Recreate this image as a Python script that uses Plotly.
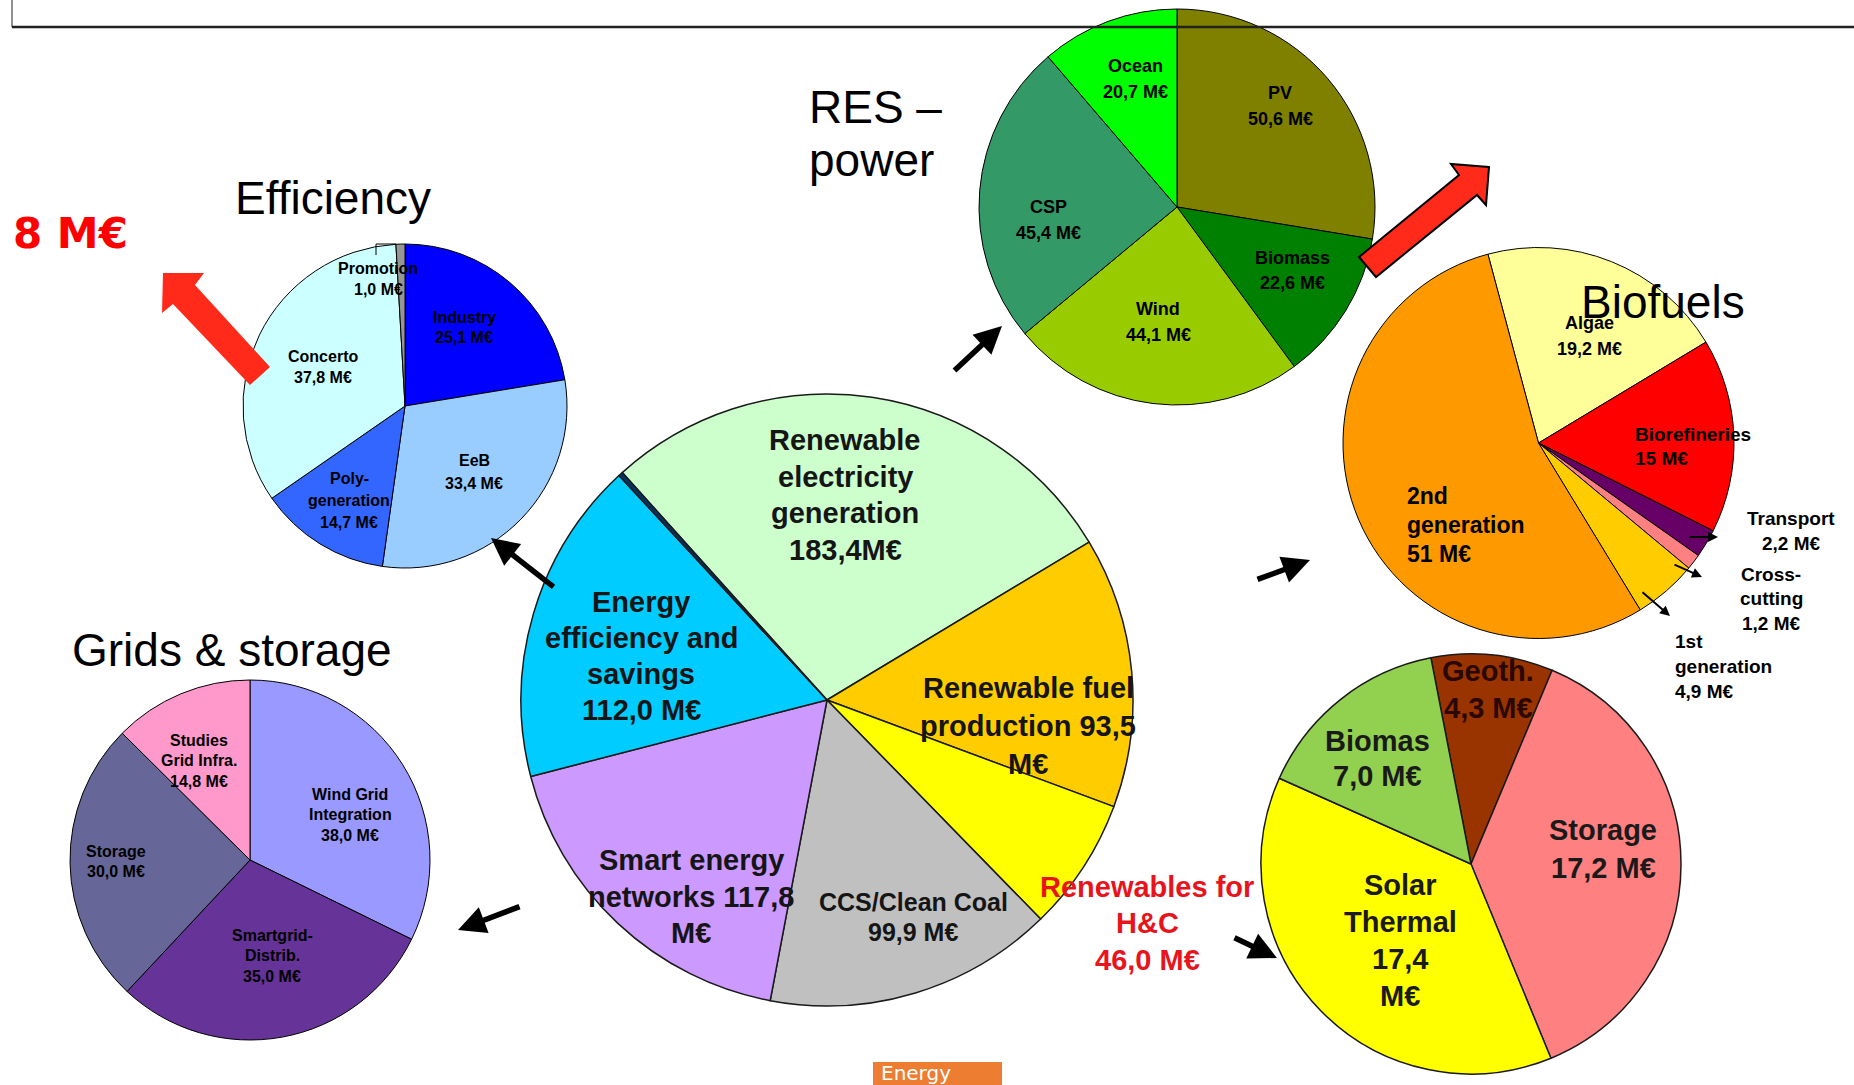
import plotly.graph_objects as go

W, H = 1854, 1085
FONT = "Liberation Sans, Arial, sans-serif"

# ------------------------------------------------------------------ data
central_labels = ["Renewable electricity generation", "Renewable fuel production",
                  "Renewables for H&C", "CCS/Clean Coal", "Smart energy networks",
                  "Energy efficiency and savings", "Other (unlabelled)"]
central_values = [183.4, 93.5, 46.0, 99.9, 117.8, 112.0, 1.5]
central_colors = ["#CCFFCC", "#FFCC00", "#FFFF00", "#C0C0C0", "#CC99FF", "#00CCFF", "#003366"]
central_text = [
    ["Renewable", "electricity", "generation", "183,4M€"],
    ["Renewable fuel", "production 93,5", "M€"],
    ["Renewables for", "H&C", "46,0 M€"],
    ["CCS/Clean Coal", "99,9 M€"],
    ["Smart energy", "networks 117,8", "M€"],
    ["Energy", "efficiency and", "savings", "112,0 M€"],
]

effic_names = ["Industry", "EeB", "Poly-\ngeneration", "Concerto", "Promotion"]
effic_values = [25.1, 33.4, 14.7, 37.8, 1.0]
effic_colors = ["#0000FF", "#99CCFF", "#3366FF", "#CCFFFF", "#969696"]

res_names = ["PV", "Biomass", "Wind", "CSP", "Ocean"]
res_values = [50.6, 22.6, 44.1, 45.4, 20.7]
res_colors = ["#808000", "#008000", "#99CC00", "#339966", "#00FF00"]

bio_names = ["Algae", "Biorefineries", "Transport", "Cross-\ncutting", "1st\ngeneration", "2nd\ngeneration"]
bio_values = [19.2, 15, 2.2, 1.2, 4.9, 51]
bio_colors = ["#FFFF99", "#FF0000", "#660066", "#FF8080", "#FFCC00", "#FF9900"]

hc_names = ["Geoth.", "Storage", "Solar\nThermal", "Biomas"]
hc_values = [4.3, 17.2, 17.4, 7.0]
hc_colors = ["#993300", "#FF8080", "#FFFF00", "#92D050"]

grid_names = ["Wind Grid\nIntegration", "Smartgrid-\nDistrib.", "Storage", "Studies\nGrid Infra."]
grid_values = [38.0, 35.0, 30.0, 14.8]
grid_colors = ["#9999FF", "#663399", "#666699", "#FF99CC"]

titles = ["Efficiency", "RES –\npower", "Biofuels", "Grids & storage"]
promo_total = "8 M€"
banner_text = "Energy"


# ------------------------------------------------------------------ helpers
def fmt(v, style="1dp", sep=" "):
    s = f"{v:.1f}" if style == "1dp" else f"{v:g}"
    return s.replace(".", ",") + sep + "M€"


def px(x, y):
    return x / W, 1 - y / H


def dom(cx, cy, r):
    return dict(x=[(cx - r) / W, (cx + r) / W], y=[1 - (cy + r) / H, 1 - (cy - r) / H])


annotations = []
shapes = []


def block(lines, x, y0, dy, size, color="#000000", bold=True, align="center", family=FONT):
    for i, line in enumerate(lines):
        xx, yy = px(x, y0 + i * dy)
        annotations.append(dict(
            x=xx, y=yy, xref="paper", yref="paper", showarrow=False,
            text=f"<b>{line}</b>" if bold else line,
            xanchor=align, yanchor="middle",
            font=dict(size=size, color=color, family=family)))


def arrow(tail, head, width, size=1.0, color="black"):
    xx, yy = px(*head)
    annotations.append(dict(
        x=xx, y=yy, xref="paper", yref="paper", text="", showarrow=True,
        ax=tail[0] - head[0], ay=tail[1] - head[1], axref="pixel", ayref="pixel",
        arrowhead=2, arrowsize=size, arrowwidth=width, arrowcolor=color))


def poly(points, fill, line_color=None, line_width=0):
    d = "M " + " L ".join(f"{x / W:.5f},{1 - y / H:.5f}" for x, y in points) + " Z"
    shapes.append(dict(type="path", xref="paper", yref="paper", path=d,
                       fillcolor=fill, layer="above",
                       line=dict(color=line_color or fill, width=line_width)))


def pie(labels, values, colors, cx, cy, r, rotation, lw=1, lc="black"):
    return go.Pie(labels=labels, values=values, sort=False, direction="clockwise",
                  rotation=rotation, domain=dom(cx, cy, r), textinfo="none",
                  marker=dict(colors=colors, line=dict(color=lc, width=lw)),
                  showlegend=False, hoverinfo="label+value")


fig = go.Figure()

# ------------------------------------------------------------------ pies
fig.add_trace(pie([n.replace("\n", " ") for n in effic_names], effic_values, effic_colors, 405, 406, 162, 0))
fig.add_trace(pie(res_names, res_values, res_colors, 1177, 207, 198, 0))
fig.add_trace(pie([n.replace("\n", " ") for n in bio_names], bio_values, bio_colors, 1538.5, 443, 195.5, -15))
fig.add_trace(pie([n.replace("\n", " ") for n in hc_names], hc_values, hc_colors, 1471, 864, 210, -11, lw=1.5, lc="#1a1a1a"))
fig.add_trace(pie([n.replace("\n", " ") for n in grid_names], grid_values, grid_colors, 250, 860, 180, 0))
fig.add_trace(pie(central_labels, central_values, central_colors, 827, 700, 306, -42, lw=1.5, lc="#1a1a1a"))

# ------------------------------------------------------------------ titles
block([titles[0]], 333, 198, 0, 46, bold=False)
block(titles[1].split("\n"), 807, 107, 53, 46, bold=False, align="left")
block([titles[2]], 1663, 302, 0, 46, bold=False)
block([titles[3]], 232, 650, 0, 46, bold=False)
block([promo_total], 70, 233, 0, 42, color="#FF0000", family="DejaVu Sans, Verdana, sans-serif")

# ------------------------------------------------------------------ efficiency labels
eff_pos = [(464, 317, 21), (474, 461, 22), (349, 478, 22), (323, 356, 21), (378, 268, 22)]
for name, v, (x, y, dy) in zip(effic_names, effic_values, eff_pos):
    block(name.split("\n") + [fmt(v)], x, y, dy, 16)

# ------------------------------------------------------------------ RES labels
res_pos = [(1280, 93), (1292, 258), (1158, 309), (1048, 207), (1135, 66)]
for name, v, (x, y) in zip(res_names, res_values, res_pos):
    block([name, fmt(v)], x, y, 25.5, 18)

# ------------------------------------------------------------------ Biofuels labels
bio_pos = [(1589, 323, 26, "center", 18), (1633, 434, 24, "left", 19),
           (1791, 518, 25, "center", 19), (1771, 574, 24.5, "center", 19),
           (1673, 641, 25, "left", 19), (1405, 496, 29, "left", 23)]
for name, v, (x, y, dy, al, fs) in zip(bio_names, bio_values, bio_pos):
    block(name.split("\n") + [fmt(v, "g")], x, y, dy, fs, align=al)

arrow((1688, 537), (1718, 537), 2)
arrow((1673, 564), (1702, 577), 2)
arrow((1641, 591), (1670, 616), 2)

# ------------------------------------------------------------------ H&C labels
hc_pos = [(1488, 671, 37, "#2a0800"), (1603, 830, 38, "#1a1a1a"),
          (1400, 885, 37, "#1a1a1a"), (1377, 741, 35, "#1a1a1a")]
for name, v, (x, y, dy, col) in zip(hc_names, hc_values, hc_pos):
    val = fmt(v)
    lines = name.split("\n")
    lines += val.split(" ") if len(lines) > 1 else [val]
    block(lines, x, y, dy, 29, color=col)

# ------------------------------------------------------------------ grids labels
grid_pos = [(350, 794), (272, 935), (116, 851), (199, 740)]
for name, v, (x, y) in zip(grid_names, grid_values, grid_pos):
    block(name.split("\n") + [fmt(v)], x, y, 20.5, 16)

# ------------------------------------------------------------------ central labels
cen_pos = [(845, 440, 36.5, "#151515", 29), (1028, 688, 38, "#151515", 29),
           (1147, 887, 36.5, "#E8141C", 29), (913, 902, 30, "#151515", 25),
           (691, 860, 36.5, "#151515", 29), (641, 602, 36, "#151515", 29)]
for lines, (x, y, dy, col, fs) in zip(central_text, cen_pos):
    block(lines, x, y, dy, fs, color=col)

# ------------------------------------------------------------------ black arrows
arrow((555, 588), (491, 538), 5.5)
arrow((953, 372), (1002, 326), 5.5)
arrow((1256, 580), (1310, 560), 5.5)
arrow((1233, 937), (1277, 958), 5.5)
arrow((521, 906), (458, 930), 5.5)

# ------------------------------------------------------------------ red block arrows
poly([(163, 273), (204, 273), (195, 285), (270, 367), (250, 385), (173, 304), (162, 313)], "#FF2A1A")
poly([(1489, 167), (1451, 164), (1459, 175), (1359, 257), (1376, 277), (1477, 195), (1486, 205)],
     "#FF2A1A", "black", 2)

# promotion leader line
x0, y0 = px(376, 255)
x1, y1 = px(376, 244)
x2, y2 = px(396, 244)
shapes.append(dict(type="path", xref="paper", yref="paper", layer="above",
                   path=f"M {x0},{y0} L {x1},{y1} L {x2},{y2}", line=dict(color="black", width=1)))

# top frame line
shapes.append(dict(type="line", xref="paper", yref="paper", layer="above",
                   x0=12 / W, x1=1, y0=1 - 27 / H, y1=1 - 27 / H, line=dict(color="#222", width=2.5)))
shapes.append(dict(type="line", xref="paper", yref="paper", layer="above",
                   x0=12 / W, x1=12 / W, y0=1, y1=1 - 27 / H, line=dict(color="#222", width=1)))

# bottom banner
bx0, by0 = px(873, 1062)
bx1, by1 = px(1002, 1085)
shapes.append(dict(type="rect", xref="paper", yref="paper", layer="above",
                   x0=bx0, x1=bx1, y0=by1, y1=by0, fillcolor="#ED7D31", line=dict(width=0)))
block([banner_text], 879, 1073, 0, 20, color="white", bold=False, align="left",
      family="DejaVu Sans, Verdana, sans-serif")

fig.update_layout(width=W, height=H, margin=dict(l=0, r=0, t=0, b=0),
                  paper_bgcolor="white", plot_bgcolor="white",
                  annotations=annotations, shapes=shapes)

fig.write_html("out.html", config={"displayModeBar": False},
               post_script="document.body.style.margin='0';document.body.style.overflow='hidden';")
